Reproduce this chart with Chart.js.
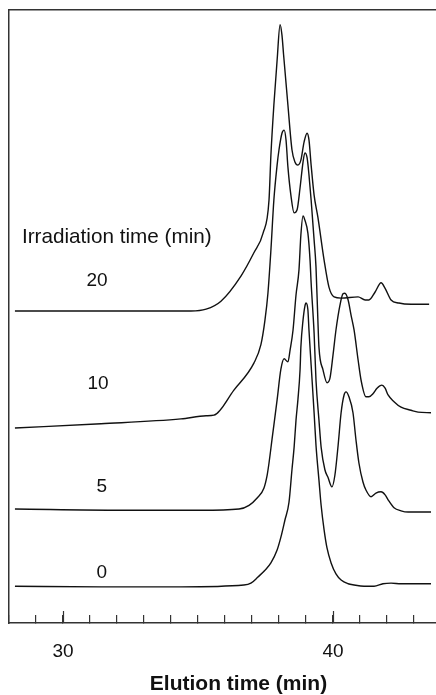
<!DOCTYPE html>
<html>
<head>
<meta charset="utf-8">
<script src="https://cdn.jsdelivr.net/npm/chart.js@4.4.1/dist/chart.umd.min.js"></script>
<style>
  html, body { margin: 0; padding: 0; background: #fff; overflow: hidden; }
  #wrap { width: 468px; height: 695px; }
</style>
</head>
<body>
<div id="wrap"><canvas id="grafica" width="468" height="695"></canvas></div>
<script>
const tiempo20 = [28.22, 32.15, 34.74, 35.30, 35.85, 36.59, 37.07, 37.41, 37.63, 37.70, 37.81, 37.93, 38.04, 38.11, 38.17, 38.33, 38.48, 38.59, 38.70, 38.81, 38.93, 39.04, 39.11, 39.19, 39.30, 39.44, 39.67, 39.85, 40.04, 40.30, 40.93, 41.19, 41.33, 41.56, 41.78, 41.93, 42.15, 42.44, 42.89, 43.56];
const senal20  = [50.9, 50.9, 50.9, 51.2, 52.5, 56.6, 60.4, 63.6, 69.0, 76.3, 84.5, 91.8, 97.6, 95.9, 92.7, 84.5, 77.2, 75.2, 74.7, 75.5, 78.5, 79.9, 78.8, 74.7, 69.8, 66.2, 59.2, 54.8, 53.2, 53.0, 53.2, 52.7, 52.7, 54.0, 55.5, 54.6, 52.7, 52.2, 52.0, 52.0];

const tiempo10 = [28.22, 31.41, 34.37, 35.30, 35.59, 36.33, 37.07, 37.33, 37.48, 37.59, 37.70, 37.81, 37.93, 38.00, 38.11, 38.19, 38.26, 38.33, 38.44, 38.56, 38.67, 38.78, 38.89, 38.96, 39.04, 39.11, 39.19, 39.30, 39.37, 39.44, 39.48, 39.63, 39.78, 39.89, 40.00, 40.11, 40.26, 40.37, 40.44, 40.56, 40.67, 40.78, 40.93, 41.04, 41.22, 41.33, 41.48, 41.63, 41.81, 41.93, 42.04, 42.26, 42.52, 42.89, 43.15, 43.63];
const senal10  = [31.8, 32.5, 33.3, 33.8, 33.9, 38.0, 42.4, 45.4, 49.4, 53.8, 60.8, 69.0, 74.7, 77.2, 79.9, 80.4, 78.8, 74.4, 69.8, 66.9, 67.4, 71.0, 75.2, 76.7, 75.9, 73.1, 69.0, 62.5, 58.1, 49.4, 45.0, 41.3, 39.2, 40.0, 43.7, 47.8, 51.9, 53.7, 53.8, 52.7, 50.2, 47.8, 42.9, 39.6, 36.9, 36.9, 37.4, 38.3, 38.8, 38.3, 37.2, 36.1, 35.2, 34.7, 34.4, 34.3];

const tiempo5 = [28.22, 32.15, 35.11, 36.52, 36.89, 37.19, 37.44, 37.56, 37.63, 37.74, 37.93, 38.07, 38.19, 38.33, 38.41, 38.52, 38.63, 38.74, 38.81, 38.89, 38.96, 39.07, 39.15, 39.19, 39.30, 39.37, 39.48, 39.56, 39.70, 39.81, 39.96, 40.07, 40.19, 40.30, 40.41, 40.48, 40.59, 40.74, 40.85, 40.96, 41.11, 41.22, 41.41, 41.59, 41.78, 41.93, 42.04, 42.26, 42.52, 42.78, 43.63];
const senal5  = [18.6, 18.4, 18.4, 18.6, 19.2, 20.4, 22.0, 24.1, 26.1, 29.9, 36.4, 41.4, 43.1, 42.6, 44.5, 47.8, 53.5, 57.6, 63.3, 66.4, 65.7, 63.6, 59.2, 55.5, 47.3, 39.6, 33.1, 28.7, 25.0, 23.8, 22.2, 24.1, 29.0, 34.3, 37.2, 37.7, 36.9, 34.3, 29.9, 26.1, 23.0, 21.7, 20.6, 21.2, 21.4, 20.9, 20.1, 18.8, 18.3, 18.1, 18.1];

const tiempo0 = [28.22, 31.41, 34.37, 36.70, 36.96, 37.22, 37.48, 37.70, 37.93, 38.07, 38.22, 38.37, 38.48, 38.56, 38.63, 38.70, 38.78, 38.81, 38.89, 38.96, 39.00, 39.07, 39.11, 39.19, 39.30, 39.37, 39.48, 39.56, 39.67, 39.78, 39.93, 40.11, 40.30, 40.56, 40.78, 41.15, 41.52, 41.85, 42.15, 42.52, 42.89, 43.63];
const senal0  = [6.0, 5.9, 5.9, 6.2, 6.5, 7.5, 8.6, 9.8, 11.9, 14.0, 16.8, 19.7, 25.0, 28.7, 33.1, 36.4, 41.3, 45.0, 49.4, 51.7, 52.2, 51.1, 47.8, 42.1, 34.3, 29.0, 23.3, 19.2, 15.2, 12.2, 9.8, 8.0, 7.0, 6.4, 6.2, 6.0, 6.0, 6.4, 6.5, 6.4, 6.4, 6.4];

// Etiquetas de cada traza (tiempo de irradiación)
const etiquetasTraza = ['20', '10', '5', '0'];
const tituloLeyenda = 'Irradiation time (min)';
const ticksMayores = [30, 40];

const FUENTE = '"Liberation Sans", Arial, Helvetica, sans-serif';

function puntos(xs, ys) {
    return xs.map((x, i) => ({ x: x, y: ys[i] }));
}

const trazas = [
    puntos(tiempo20, senal20),
    puntos(tiempo10, senal10),
    puntos(tiempo5, senal5),
    puntos(tiempo0, senal0)
];

// Textos dentro del área (posiciones en unidades de los ejes)
const pluginTextos = {
    id: 'textos',
    afterDraw(chart, args, opts) {
        const { ctx, scales: { x, y } } = chart;
        ctx.save();
        ctx.fillStyle = '#111';
        ctx.textBaseline = 'middle';
        ctx.font = '20.7px ' + FUENTE;
        ctx.textAlign = 'left';
        ctx.fillText(tituloLeyenda, x.getPixelForValue(opts.titulo.x), y.getPixelForValue(opts.titulo.y));
        ctx.font = '19px ' + FUENTE;
        ctx.textAlign = 'center';
        etiquetasTraza.forEach((t, i) => {
            const p = opts.posiciones[i];
            ctx.fillText(t, x.getPixelForValue(p.x), y.getPixelForValue(p.y));
        });
        // ticks mayores más largos hacia dentro
        ctx.strokeStyle = '#333';
        ctx.lineWidth = 1.2;
        ticksMayores.forEach(v => {
            const px = Math.round(x.getPixelForValue(v)) + 0.5;
            ctx.beginPath();
            ctx.moveTo(px, chart.chartArea.bottom);
            ctx.lineTo(px, chart.chartArea.bottom - 12);
            ctx.stroke();
        });
        ctx.restore();
    }
};

const ctx = document.getElementById('grafica').getContext('2d');
const grafica = new Chart(ctx, {
    type: 'line',
    data: {
        datasets: trazas.map((d, i) => ({
            label: etiquetasTraza[i],
            data: d,
            borderColor: '#111',
            borderWidth: 1.4,
            pointRadius: 0,
            fill: false,
            cubicInterpolationMode: 'monotone'
        }))
    },
    options: {
        responsive: false,
        animation: false,
        devicePixelRatio: 1,
        layout: { padding: { left: 9, top: 10, right: 0, bottom: 0 } },
        plugins: {
            legend: { display: false },
            tooltip: { enabled: false },
            textos: {
                titulo: { x: 28.48, y: 63.0 },
                posiciones: [
                    { x: 31.26, y: 55.8 },
                    { x: 31.30, y: 39.0 },
                    { x: 31.44, y: 22.3 },
                    { x: 31.44, y: 8.2 }
                ]
            }
        },
        scales: {
            x: {
                type: 'linear',
                position: 'bottom',
                min: 28,
                max: 45,
                border: { display: true, color: '#333', width: 1.5 },
                grid: { drawOnChartArea: false, drawTicks: true, tickLength: -8, color: '#333', lineWidth: 1.2 },
                ticks: {
                    stepSize: 1,
                    autoSkip: false,
                    maxRotation: 0,
                    padding: 25,
                    color: '#111',
                    font: { family: FUENTE, size: 19 },
                    callback: v => (v % 10 === 0 ? String(v) : '')
                },
                title: {
                    display: true,
                    text: 'Elution time (min)',
                    color: '#111',
                    font: { family: FUENTE, size: 21, weight: 'bold', lineHeight: 1.0 },
                    padding: { top: 11, bottom: 0 }
                },
                afterFit: s => {
                    // alto fijo del eje y sin margen lateral por el padding de las etiquetas
                    s.height = 72;
                    s.paddingLeft = 0;
                    s.paddingRight = 0;
                }
            },
            x2: {
                type: 'linear',
                position: 'top',
                min: 28,
                max: 45,
                border: { display: true, color: '#333', width: 1.5 },
                grid: { display: false, drawTicks: false },
                ticks: { display: false }
            },
            y: {
                type: 'linear',
                min: 0,
                max: 100,
                border: { display: true, color: '#333', width: 1.5 },
                grid: { display: false, drawTicks: false },
                ticks: { display: false }
            }
        }
    },
    plugins: [pluginTextos]
});
</script>
</body>
</html>
